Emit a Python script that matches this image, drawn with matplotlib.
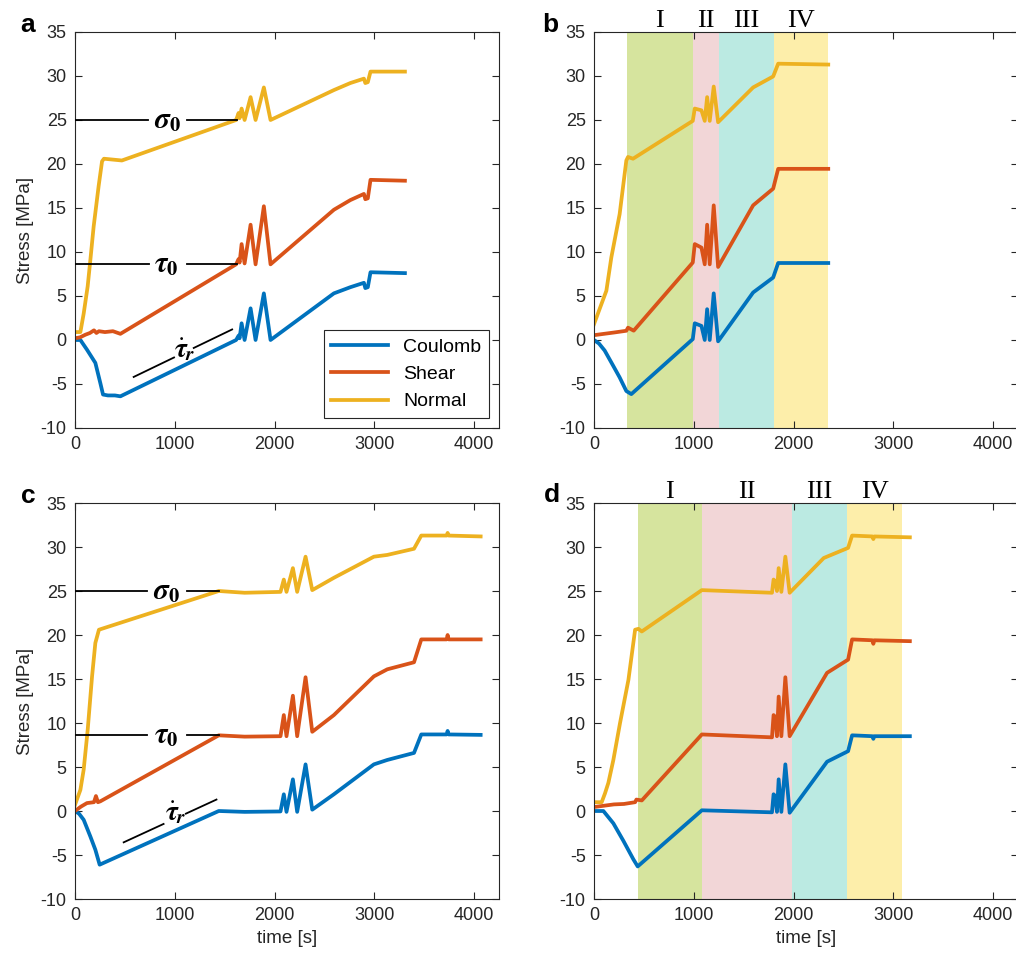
import matplotlib
matplotlib.use("Agg")
import matplotlib.pyplot as plt
from matplotlib.transforms import blended_transform_factory

plt.rcParams["font.family"] = ["Liberation Sans", "DejaVu Sans"]
plt.rcParams["mathtext.fontset"] = "stix"
plt.rcParams["axes.unicode_minus"] = False

# ---- panel a ----
A_T_COULOMB = [0, 54, 120, 204, 254, 281, 330, 400, 455, 1615, 1640, 1650, 1670, 1700,
               1760, 1810, 1893, 1960, 2595, 2760, 2896, 2910, 2935, 2962, 3307]
A_COULOMB = [0.0, 0.0, -1.1, -2.6, -4.9, -6.2, -6.3, -6.3, -6.4, 0.0, 0.5, 0.2, 1.9, 0.0,
             3.6, 0.0, 5.3, 0.0, 5.3, 6.0, 6.5, 5.9, 6.0, 7.7, 7.6]
A_T_SHEAR = [0, 50, 104, 150, 190, 215, 240, 300, 380, 455, 1615, 1640, 1650, 1670, 1700,
             1760, 1810, 1893, 1960, 2595, 2760, 2896, 2910, 2935, 2962, 3307]
A_SHEAR = [0.2, 0.3, 0.6, 0.8, 1.1, 0.8, 1.0, 0.9, 1.0, 0.7, 8.6, 9.2, 8.8, 10.9, 8.7,
           13.1, 8.6, 15.2, 8.6, 14.8, 15.9, 16.6, 16.0, 16.1, 18.2, 18.1]
A_T_NORMAL = [0, 54, 87, 127, 154, 187, 237, 271, 290, 470, 1615, 1640, 1650, 1670, 1700,
              1760, 1810, 1893, 1960, 2595, 2760, 2896, 2910, 2935, 2962, 3307]
A_NORMAL = [0.9, 0.9, 3.0, 6.1, 9.1, 12.9, 17.5, 20.3, 20.6, 20.4, 25.0, 25.8, 25.2, 26.3, 25.0,
            27.6, 25.0, 28.7, 25.0, 28.4, 29.2, 29.7, 29.2, 29.3, 30.5, 30.5]

# ---- panel b ----
B_T_COULOMB = [0, 50, 107, 191, 257, 324, 374, 990, 1010, 1077, 1110, 1134, 1160,
               1200, 1244, 1595, 1796, 1846, 2348]
B_COULOMB = [0.0, -0.4, -1.2, -2.9, -4.25, -5.8, -6.15, 0.1, 1.9, 1.6, 0.0, 3.5, 0.0,
             5.3, -0.15, 5.4, 7.1, 8.75, 8.75]
B_T_SHEAR = [0, 100, 200, 324, 341, 398, 990, 1010, 1077, 1110, 1134, 1160, 1200, 1244,
             1595, 1796, 1846, 2348]
B_SHEAR = [0.55, 0.7, 0.85, 1.05, 1.4, 1.06, 8.8, 10.9, 10.5, 8.6, 13.1, 8.6, 15.3, 8.3,
           15.3, 17.2, 19.45, 19.45]
B_T_NORMAL = [0, 124, 174, 257, 324, 341, 391, 990, 1010, 1077, 1110, 1134, 1160, 1200,
              1244, 1595, 1796, 1846, 2348]
B_NORMAL = [1.8, 5.6, 9.4, 14.3, 20.4, 20.8, 20.6, 24.9, 26.3, 26.1, 24.9, 27.6, 24.9, 28.8,
            24.75, 28.7, 29.95, 31.4, 31.3]
B_PHASES = [330, 990, 1250, 1800, 2350]

# ---- panel c ----
C_T_COULOMB = [0, 40, 87, 154, 204, 247, 1441, 1700, 2060, 2093, 2120, 2184, 2227, 2311,
               2378, 2595, 2996, 3130, 3398, 3471, 3725, 3735, 3745, 4066]
C_COULOMB = [0.0, -0.3, -1.0, -2.9, -4.4, -6.1, 0.0, -0.1, -0.05, 1.9, -0.1, 3.6, -0.1, 5.3,
             0.15, 1.9, 5.3, 5.8, 6.6, 8.7, 8.7, 9.1, 8.7, 8.65]
C_T_SHEAR = [0, 60, 120, 190, 210, 230, 254, 1441, 1700, 2060, 2093, 2120, 2184, 2227, 2311,
             2378, 2595, 2996, 3130, 3398, 3471, 3725, 3735, 3745, 4066]
C_SHEAR = [0.0, 0.5, 0.9, 1.0, 1.7, 1.0, 1.1, 8.6, 8.45, 8.5, 10.9, 8.5, 13.1, 8.5, 15.2,
           9.0, 10.9, 15.3, 16.1, 16.9, 19.5, 19.5, 20.0, 19.5, 19.5]
C_T_NORMAL = [0, 54, 87, 127, 171, 204, 240, 1441, 1700, 2060, 2093, 2120, 2184, 2227, 2311,
              2378, 2595, 2996, 3130, 3398, 3471, 3725, 3735, 3745, 4066]
C_NORMAL = [0.7, 2.4, 4.7, 9.2, 15.3, 19.1, 20.6, 25.0, 24.8, 24.9, 26.3, 24.9, 27.6, 24.9,
            28.9, 25.1, 26.5, 28.9, 29.1, 29.8, 31.3, 31.3, 31.6, 31.3, 31.2]

# ---- panel d ----
D_T_COULOMB = [0, 94, 194, 295, 395, 438, 1081, 1784, 1800, 1817, 1834, 1851, 1878, 1918,
               1961, 2336, 2547, 2587, 2790, 2800, 2810, 3166]
D_COULOMB = [0.0, 0.0, -1.4, -3.4, -5.5, -6.3, 0.08, -0.15, 1.9, 1.7, -0.1, 3.6, -0.1, 5.3,
             -0.2, 5.6, 6.8, 8.6, 8.5, 8.2, 8.5, 8.5]
D_T_SHEAR = [0, 100, 200, 300, 412, 425, 479, 1081, 1784, 1800, 1817, 1834, 1851, 1878,
             1918, 1961, 2336, 2547, 2587, 2790, 2800, 2810, 3166]
D_SHEAR = [0.45, 0.6, 0.75, 0.8, 1.0, 1.3, 1.2, 8.7, 8.37, 10.9, 10.7, 8.5, 13.0, 8.5,
           15.2, 8.5, 15.7, 17.2, 19.5, 19.4, 19.0, 19.4, 19.3]
D_T_NORMAL = [0, 77, 110, 144, 194, 261, 345, 412, 445, 479, 1081, 1784, 1800, 1817, 1834,
              1851, 1878, 1918, 1961, 2303, 2547, 2587, 2790, 2800, 2810, 3166]
D_NORMAL = [1.0, 1.0, 2.0, 3.2, 5.8, 10.0, 14.9, 20.6, 20.7, 20.4, 25.1, 24.8, 26.3, 26.1,
            25.0, 27.6, 24.9, 28.9, 24.8, 28.75, 29.9, 31.3, 31.2, 30.9, 31.2, 31.1]
D_PHASES = [440, 1080, 1980, 2540, 3090]

PHASE_LABELS = ["I", "II", "III", "IV"]
PHASE_COLORS = ["#d6e49e", "#f2d6d7", "#bbeae2", "#fdeeaa"]
SERIES = ["Coulomb", "Shear", "Normal"]
COLORS = {"Coulomb": "#0072BD", "Shear": "#D95319", "Normal": "#EDB120"}
DARK = "#262626"


def gapped_line(ax, p0, p1, gap):
    # black reference line, broken where the label sits
    (x0, y0), (x1, y1) = p0, p1
    for f0, f1 in [(0, gap[0]), (gap[1], 1)]:
        ax.plot([x0 + (x1 - x0) * f0, x0 + (x1 - x0) * f1],
                [y0 + (y1 - y0) * f0, y0 + (y1 - y0) * f1],
                color="k", lw=1.3, zorder=3)


def setup(ax):
    ax.set_xlim(0, 4250)
    ax.set_ylim(-10, 35)
    ax.set_xticks(range(0, 4001, 1000))
    ax.set_yticks(range(-10, 36, 5))
    ax.tick_params(direction="in", top=True, right=True, length=5, width=0.8,
                   colors=DARK, labelsize=13, pad=6)
    for s in ax.spines.values():
        s.set_color(DARK)
        s.set_linewidth(0.8)


def draw(ax, data):
    for name, (t, v) in zip(SERIES, data):
        ax.plot(t, v, color=COLORS[name], lw=2.7, label=name, zorder=2,
                solid_joinstyle="round")


def phases(ax, edges):
    tr = blended_transform_factory(ax.transData, ax.transAxes)
    for i, lab in enumerate(PHASE_LABELS):
        ax.axvspan(edges[i], edges[i + 1], color=PHASE_COLORS[i], lw=0, zorder=0)
        ax.text((edges[i] + edges[i + 1]) / 2, 1.012, lab, transform=tr, ha="center",
                va="baseline", fontsize=19, family="Liberation Serif")


def main():
    fig = plt.figure(figsize=(10.16, 9.6), dpi=100)
    W, H = 1016, 960
    pos = {"a": (75, 428), "b": (594, 428), "c": (75, 899), "d": (594, 899)}
    axes = {k: fig.add_axes([x / W, (H - y) / H, 424 / W, 396 / H]) for k, (x, y) in pos.items()}

    draw(axes["a"], [(A_T_COULOMB, A_COULOMB), (A_T_SHEAR, A_SHEAR), (A_T_NORMAL, A_NORMAL)])
    draw(axes["b"], [(B_T_COULOMB, B_COULOMB), (B_T_SHEAR, B_SHEAR), (B_T_NORMAL, B_NORMAL)])
    draw(axes["c"], [(C_T_COULOMB, C_COULOMB), (C_T_SHEAR, C_SHEAR), (C_T_NORMAL, C_NORMAL)])
    draw(axes["d"], [(D_T_COULOMB, D_COULOMB), (D_T_SHEAR, D_SHEAR), (D_T_NORMAL, D_NORMAL)])
    phases(axes["b"], B_PHASES)
    phases(axes["d"], D_PHASES)

    for ax in axes.values():
        setup(ax)
    for k in ["a", "c"]:
        axes[k].set_ylabel("Stress [MPa]", fontsize=13.5, color=DARK, labelpad=5)
    for k in ["c", "d"]:
        axes[k].set_xlabel("time [s]", fontsize=13.5, color=DARK, labelpad=4)

    sig = r"$\mathbfit{\sigma}_{\mathbf{0}}$"
    tau = r"$\mathbfit{\tau}_{\mathbf{0}}$"
    rate = r"$\dot{\mathbfit{\tau}}_{\mathbfit{r}}$"
    # panel a annotations
    ax = axes["a"]
    gapped_line(ax, (0, 25), (1620, 25), (730 / 1620, 1120 / 1620))
    gapped_line(ax, (0, 8.6), (1620, 8.6), (740 / 1620, 1124 / 1620))
    gapped_line(ax, (588, -4.2), (1575, 1.2), (0.41, 0.61))
    ax.text(930, 25, sig, ha="center", va="center", fontsize=21)
    ax.text(915, 8.6, tau, ha="center", va="center", fontsize=21)
    ax.text(1105, -1.1, rate, ha="center", va="center", fontsize=20)
    # panel c annotations
    ax = axes["c"]
    gapped_line(ax, (0, 25), (1441, 25), (722 / 1441, 1124 / 1441))
    gapped_line(ax, (0, 8.6), (1441, 8.6), (722 / 1441, 1124 / 1441))
    gapped_line(ax, (488, -3.56), (1418, 1.3), (0.43, 0.67))
    ax.text(915, 25, sig, ha="center", va="center", fontsize=21)
    ax.text(915, 8.6, tau, ha="center", va="center", fontsize=21)
    ax.text(1006, -0.2, rate, ha="center", va="center", fontsize=20)

    leg = axes["a"].legend(loc="lower right", fontsize=14, handlelength=2.9,
                           fancybox=False, framealpha=1, borderaxespad=0.5)
    leg.get_frame().set_edgecolor(DARK)
    leg.get_frame().set_linewidth(0.8)
    for txt in leg.get_texts():
        txt.set_color("k")

    for lab, (x, y) in {"a": (20, 32), "b": (542, 32), "c": (21, 503), "d": (544, 502)}.items():
        fig.text(x / W, 1 - y / H, lab, fontsize=19, fontweight="bold", va="baseline")

    fig.savefig("out.png", dpi=100)


if __name__ == "__main__":
    main()
